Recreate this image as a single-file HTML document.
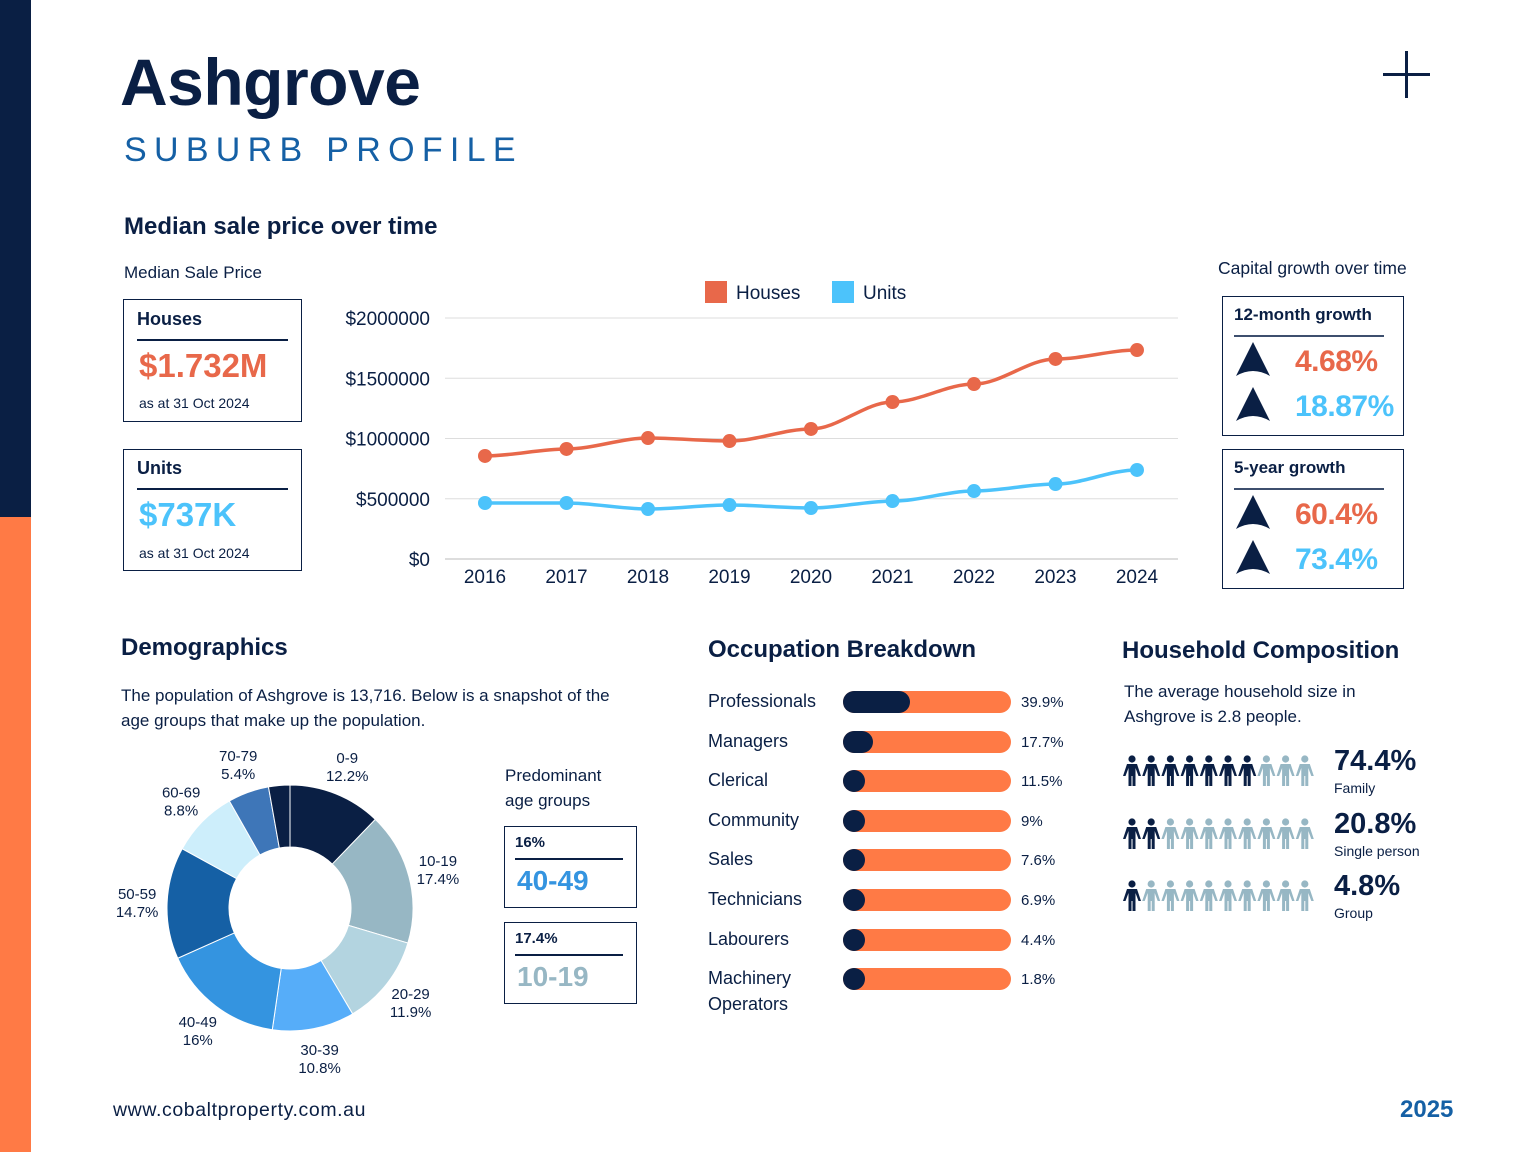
<!DOCTYPE html>
<html><head><meta charset="utf-8">
<style>
*{margin:0;padding:0;box-sizing:border-box}
body{width:1536px;height:1152px;background:#fff;position:relative;overflow:hidden;font-family:"Liberation Sans",sans-serif;color:#0a1f44}
.a{position:absolute;white-space:nowrap}
.box{position:absolute;border:1.5px solid #0a1f44}
.b{font-weight:bold}
</style></head><body>
<div class="a" style="left:0;top:0;width:31px;height:517px;background:#0a1f44"></div>
<div class="a" style="left:0;top:517px;width:31px;height:635px;background:#ff7a45"></div>

<div class="a b" style="left:120px;top:44px;font-size:66px;letter-spacing:-0.5px">Ashgrove</div>
<div class="a" style="left:124px;top:131px;font-size:34px;letter-spacing:7.3px;color:#1560a5">SUBURB PROFILE</div>
<div class="a" style="left:1383px;top:73px;width:47px;height:3px;background:#0a1f44"></div>
<div class="a" style="left:1405px;top:51px;width:3px;height:47px;background:#0a1f44"></div>

<div class="a b" style="left:124px;top:213px;font-size:24px">Median sale price over time</div>
<div class="a" style="left:124px;top:263px;font-size:17px">Median Sale Price</div>

<div class="box" style="left:123px;top:299px;width:179px;height:123px">
 <div class="a b" style="left:13px;top:9px;font-size:18px">Houses</div>
 <div class="a" style="left:13px;top:39px;width:151px;height:2px;background:#0a1f44"></div>
 <div class="a b" style="left:15px;top:47px;font-size:33px;color:#e8684a">$1.732M</div>
 <div class="a" style="left:15px;top:95px;font-size:14px">as at 31 Oct 2024</div>
</div>
<div class="box" style="left:123px;top:449px;width:179px;height:122px">
 <div class="a b" style="left:13px;top:8px;font-size:18px">Units</div>
 <div class="a" style="left:13px;top:38px;width:151px;height:2px;background:#0a1f44"></div>
 <div class="a b" style="left:15px;top:46px;font-size:33px;color:#4cc3fb">$737K</div>
 <div class="a" style="left:15px;top:95px;font-size:14px">as at 31 Oct 2024</div>
</div>

<svg class="a" id="line" style="left:0;top:0" width="1536" height="620"></svg>

<div class="a" style="left:1218px;top:258px;font-size:17.5px">Capital growth over time</div>
<div class="box" style="left:1222px;top:296px;width:182px;height:140px">
 <div class="a b" style="left:11px;top:8px;font-size:17px">12-month growth</div>
 <div class="a" style="left:11px;top:38px;width:150px;height:2px;background:#3d4f6e"></div>
 <svg class="a" style="left:11px;top:43px" width="38" height="40"><path d="M19 2 L36 36 Q19 26 2 36 Z" fill="#0a1f44"/></svg>
 <div class="a b" style="left:72px;top:48px;font-size:30px;letter-spacing:-0.5px;color:#e8684a">4.68%</div>
 <svg class="a" style="left:11px;top:88px" width="38" height="40"><path d="M19 2 L36 36 Q19 26 2 36 Z" fill="#0a1f44"/></svg>
 <div class="a b" style="left:72px;top:93px;font-size:30px;letter-spacing:-0.5px;color:#4cc3fb">18.87%</div>
</div>
<div class="box" style="left:1222px;top:449px;width:182px;height:140px">
 <div class="a b" style="left:11px;top:8px;font-size:17px">5-year growth</div>
 <div class="a" style="left:11px;top:38px;width:150px;height:2px;background:#3d4f6e"></div>
 <svg class="a" style="left:11px;top:43px" width="38" height="40"><path d="M19 2 L36 36 Q19 26 2 36 Z" fill="#0a1f44"/></svg>
 <div class="a b" style="left:72px;top:48px;font-size:30px;letter-spacing:-0.5px;color:#e8684a">60.4%</div>
 <svg class="a" style="left:11px;top:88px" width="38" height="40"><path d="M19 2 L36 36 Q19 26 2 36 Z" fill="#0a1f44"/></svg>
 <div class="a b" style="left:72px;top:93px;font-size:30px;letter-spacing:-0.5px;color:#4cc3fb">73.4%</div>
</div>

<div class="a b" style="left:121px;top:634px;font-size:24px">Demographics</div>
<div class="a" style="left:121px;top:683px;font-size:17px;line-height:25px;white-space:normal;width:560px">The population of Ashgrove is 13,716. Below is a snapshot of the<br>age groups that make up the population.</div>
<svg class="a" id="donut" style="left:0;top:730px" width="500" height="360"></svg>

<div class="a" style="left:505px;top:763px;font-size:17px;line-height:25px">Predominant<br>age groups</div>
<div class="box" style="left:504px;top:826px;width:133px;height:82px">
 <div class="a b" style="left:10px;top:7px;font-size:15px">16%</div>
 <div class="a" style="left:10px;top:31px;width:108px;height:2px;background:#0a1f44"></div>
 <div class="a b" style="left:12px;top:38px;font-size:28px;color:#3494e0">40-49</div>
</div>
<div class="box" style="left:504px;top:922px;width:133px;height:82px">
 <div class="a b" style="left:10px;top:7px;font-size:15px">17.4%</div>
 <div class="a" style="left:10px;top:31px;width:108px;height:2px;background:#0a1f44"></div>
 <div class="a b" style="left:12px;top:38px;font-size:28px;color:#97b7c4">10-19</div>
</div>

<div class="a b" style="left:708px;top:636px;font-size:24px">Occupation Breakdown</div>
<div id="occ"></div>

<div class="a b" style="left:1122px;top:637px;font-size:24px">Household Composition</div>
<div class="a" style="left:1124px;top:679px;font-size:17px;line-height:25px">The average household size in<br>Ashgrove is 2.8 people.</div>
<div id="hh"></div>

<div class="a" style="left:113px;top:1099px;font-size:19.5px;letter-spacing:0.6px">www.cobaltproperty.com.au</div>
<div class="a b" style="left:1400px;top:1096px;font-size:24px;color:#1560a5">2025</div>

<script>
const years=['2016','2017','2018','2019','2020','2021','2022','2023','2024'];
const houses=[855000,913000,1004000,979000,1079000,1303000,1452000,1660000,1734000];
const units=[465000,465000,415000,448000,423000,481000,564000,622000,739000];
const yTicks=[0,500000,1000000,1500000,2000000];

const ageLabels=['0-9','10-19','20-29','30-39','40-49','50-59','60-69','70-79','80+'];
const ageValues=[12.2,17.4,11.9,10.8,16,14.7,8.8,5.4,2.8];

const occLabels=['Professionals','Managers','Clerical','Community','Sales','Technicians','Labourers','Machinery\nOperators'];
const occValues=[39.9,17.7,11.5,9,7.6,6.9,4.4,1.8];

const hhLabels=['Family','Single person','Group'];
const hhValues=[74.4,20.8,4.8];

const NS='http://www.w3.org/2000/svg';
function mk(p,t,a){const e=document.createElementNS(NS,t);for(const k in a)e.setAttribute(k,a[k]);p.appendChild(e);return e;}

// line chart
(function(){
const s=document.getElementById('line');
const x0=485,dx=81.5,yb=559,yt=318;
const X=i=>x0+i*dx, Y=v=>yb-(v/2000000)*(yb-yt);
yTicks.forEach(t=>{
 const l=mk(s,'line',{x1:445,x2:1178,y1:Y(t),y2:Y(t),stroke:t===0?'#bbb':'#ddd','stroke-width':1});
 
 
 const tx=mk(s,'text',{x:430,y:Y(t)+7,'text-anchor':'end','font-size':19,fill:'#0a1f44'});tx.textContent='$'+t;
 
 
});
years.forEach((y,i)=>{const t=mk(s,'text',{x:X(i),y:583,'text-anchor':'middle','font-size':19,fill:'#0a1f44'});t.textContent=y;
 
 });
function series(vals,col,name){
 let d='';vals.forEach((v,i)=>{
  if(i===0)d='M'+X(i)+' '+Y(v);
  else{const px=X(i-1),py=Y(vals[i-1]),cx=X(i),cy=Y(v);d+=` C${px+dx/3} ${py} ${cx-dx/3} ${cy} ${cx} ${cy}`;}
 });
 const p=mk(s,'path',{d:d,fill:'none',stroke:col,'stroke-width':3.5});
 
 
 vals.forEach((v,i)=>{const c=mk(s,'circle',{cx:X(i),cy:Y(v),r:7,fill:col});
  
  });
}
series(houses,'#e8684a','houses');
series(units,'#4cc3fb','units');
const lg=[['Houses','#e8684a',705],['Units','#4cc3fb',832]];
lg.forEach(l=>{const r=mk(s,'rect',{x:l[2],y:281,width:22,height:22,fill:l[1]});
 
 
 const t=mk(s,'text',{x:l[2]+31,y:299,'font-size':19,fill:'#0a1f44'});t.textContent=l[0];
 
 });
})();

// donut
(function(){
const s=document.getElementById('donut');
const cx=290,cy=178,R=123,r=61;
const cols=['#0a1f44','#97b7c4','#b3d4e0','#56adf9','#3494e0','#1560a5','#cdeefb','#3e76b8','#0a1f44'];
const tot=ageValues.reduce((a,b)=>a+b,0);
let a=0;
ageValues.forEach((v,i)=>{
 const a1=a,a2=a+v/tot*2*Math.PI;a=a2;
 const P=(rad,ang)=>[cx+rad*Math.sin(ang),cy-rad*Math.cos(ang)];
 const [x1,y1]=P(R,a1),[x2,y2]=P(R,a2),[x3,y3]=P(r,a2),[x4,y4]=P(r,a1);
 const lf=(a2-a1)>Math.PI?1:0;
 const p=mk(s,'path',{d:`M${x1} ${y1}A${R} ${R} 0 ${lf} 1 ${x2} ${y2}L${x3} ${y3}A${r} ${r} 0 ${lf} 0 ${x4} ${y4}Z`,fill:cols[i],stroke:'#fff','stroke-width':1});
 
 
 if(i<8){
  const m=(a1+a2)/2;const [lx,ly]=P(153,m);
  const t=mk(s,'text',{x:lx,y:ly-3,'text-anchor':'middle','font-size':15,fill:'#0a1f44'});
  
  
  const t1=mk(t,'tspan',{x:lx,dy:0});t1.textContent=ageLabels[i];
  const t2=mk(t,'tspan',{x:lx,dy:18});t2.textContent=ageValues[i]+'%';
 }
});
})();

// occupation bars
(function(){
const c=document.getElementById('occ');
const top0=688,gap=39.6,bx=843,bw=168,bh=22;
occLabels.forEach((l,i)=>{
 const y=top0+i*gap;
 const lab=document.createElement('div');lab.className='a';
 
 
 lab.style.cssText=`left:708px;top:${y}px;font-size:18px;line-height:26px;white-space:pre`;lab.textContent=l;c.appendChild(lab);
 const tr=document.createElement('div');tr.className='a';
 
 
 tr.style.cssText=`left:${bx}px;top:${y+3}px;width:${bw}px;height:${bh}px;border-radius:11px;background:#ff7a45`;c.appendChild(tr);
 const f=document.createElement('div');f.className='a';
 
 
 f.style.cssText=`left:${bx}px;top:${y+3}px;width:${Math.max(bh,occValues[i]/100*bw)}px;height:${bh}px;border-radius:11px;background:#0a1f44`;c.appendChild(f);
 const v=document.createElement('div');v.className='a';
 
 
 v.style.cssText=`left:1021px;top:${y+6}px;font-size:15px`;v.textContent=occValues[i]+'%';c.appendChild(v);
});
})();

// household
(function(){
const c=document.getElementById('hh');
const rows=[757,820,882];
hhValues.forEach((v,i)=>{
 const y=rows[i];
 const n=Math.max(1,Math.round(v/10));
 let svg=`<svg class="a" style="left:1123px;top:${y-2}px" width="195" height="34">`;
 for(let k=0;k<10;k++){
  const col=k<n?'#0a1f44':'#97b7c4',x=k*19.2+9;
  svg+=`<g fill="${col}"><circle cx="${x}" cy="4" r="3.6"/><path d="M${x-5} 9 h10 l4 12 h-2.5 l-3-8 v18 h-3 v-10 h-1 v10 h-3 v-18 l-3 8 h-2.5 z"/></g>`;
 }
 svg+='</svg>';
 const w=document.createElement('div');w.innerHTML=svg;const el=w.firstChild;
 
 
 c.appendChild(el);
 const p=document.createElement('div');p.className='a b';
 
 
 p.style.cssText=`left:1334px;top:${y-12}px;font-size:29px`;p.textContent=v+'%';c.appendChild(p);
 const l=document.createElement('div');l.className='a';
 
 
 l.style.cssText=`left:1334px;top:${y+23}px;font-size:14px`;l.textContent=hhLabels[i];c.appendChild(l);
});
})();
</script>
</body></html>
